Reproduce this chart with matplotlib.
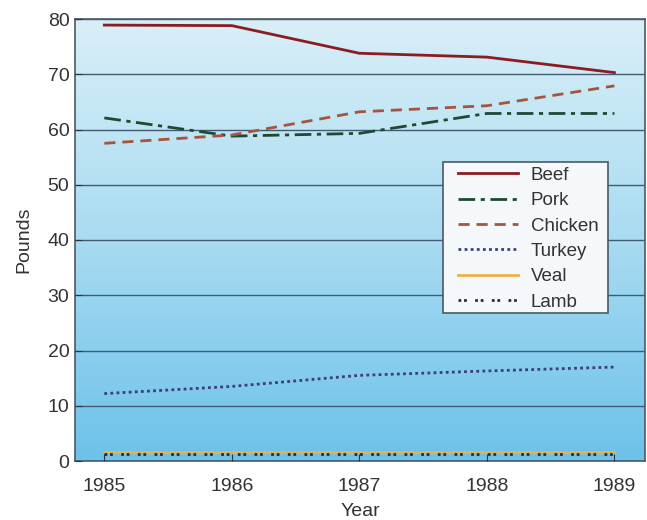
import matplotlib
matplotlib.use("Agg")
import matplotlib.pyplot as plt
import numpy as np
from matplotlib.colors import LinearSegmentedColormap
from matplotlib.patches import Rectangle

plt.rcParams['font.family'] = ['Liberation Sans', 'DejaVu Sans']

years = [1985, 1986, 1987, 1988, 1989]
beef = [78.9, 78.8, 73.8, 73.1, 70.3]
pork = [62.1, 58.8, 59.3, 62.9, 62.9]
chicken = [57.5, 59.0, 63.2, 64.3, 67.9]
turkey = [12.2, 13.5, 15.5, 16.3, 17.0]
veal = [1.6, 1.6, 1.6, 1.6, 1.6]
lamb = [1.3, 1.3, 1.3, 1.3, 1.3]
yticks = [0, 10, 20, 30, 40, 50, 60, 70, 80]

W, H = 647, 520
fig = plt.figure(figsize=(6.47, 5.2), dpi=100)
ax = fig.add_axes([75/W, 1-461/H, (645-75)/W, (461-19)/H])

cmap = LinearSegmentedColormap.from_list('bg', ['#d9eff8', '#a9dbf1', '#6cc2ea'])
grad = np.linspace(0, 1, 256).reshape(-1, 1)
ax.imshow(grad, aspect='auto', cmap=cmap, extent=[0, 1, 0, 1], origin='upper',
          transform=ax.transAxes, zorder=0)

ax.set_xlim(1984.77, 1989.24)
ax.set_ylim(0, 80)
ax.set_yticks(yticks)
ax.set_xticks(years)
ax.yaxis.grid(True, color='#3f5c72', lw=1.0, zorder=1)
ax.set_axisbelow(False)

ax.plot(years, beef, color='#8a1c22', lw=2, ls='-', label='Beef', zorder=3)
ax.plot(years, pork, color='#1e4a34', lw=2, ls=(0, (6, 2, 1.5, 2)), label='Pork', zorder=3)
ax.plot(years, chicken, color='#a4553f', lw=2, ls=(0, (4, 2.5)), label='Chicken', zorder=3)
ax.plot(years, turkey, color='#403c7a', lw=2, ls=(0, (1, 1.2)), label='Turkey', zorder=3)
ax.plot(years, veal, color='#eeb243', lw=2, ls='-', label='Veal', zorder=3)
ax.plot(years, lamb, color='#2a2a3a', lw=2, ls=(0, (1, 1, 1, 3)), label='Lamb', zorder=3)

for s in ['left', 'bottom', 'top', 'right']:
    ax.spines[s].set_color('#4a5a66')
    ax.spines[s].set_linewidth(1.2)

ax.tick_params(axis='both', direction='in', labelsize=14, color='#333333', length=5)
ax.tick_params(axis='y', pad=4)
ax.tick_params(axis='x', pad=12)
ax.set_xticklabels([str(y) for y in years])
ax.set_xlabel('Year', fontsize=14, labelpad=6, color='#333333')
ax.set_ylabel('Pounds', fontsize=14, labelpad=11, color='#333333')
for t in ax.get_xticklabels() + ax.get_yticklabels():
    t.set_color('#333333')

# legend frame drawn as a separate box
box = Rectangle((443/W, 1-313/H), (608-443)/W, (313-162)/H, transform=fig.transFigure,
                facecolor='#f4f8fb', edgecolor='#4a5a66', lw=1.2, zorder=4)
fig.patches.append(box)

leg = fig.legend(*ax.get_legend_handles_labels(), loc='upper left',
                 bbox_to_anchor=(453/W, 1-162/H), bbox_transform=fig.transFigure,
                 borderaxespad=0, fontsize=13.5, frameon=False,
                 handlelength=3.2, labelspacing=0.44, borderpad=0.25,
                 handletextpad=0.7)
for t in leg.get_texts():
    t.set_color('#333333')

fig.savefig('out.png', dpi=100)
